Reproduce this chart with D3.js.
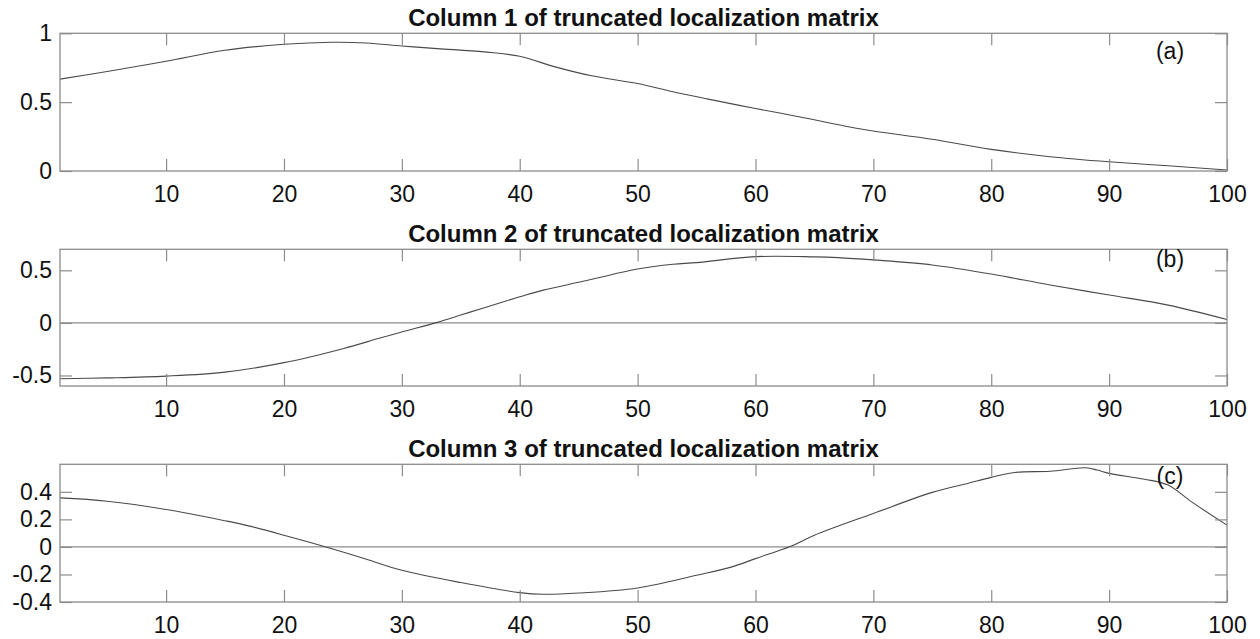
<!DOCTYPE html>
<html>
<head>
<meta charset="utf-8">
<script src="https://cdn.jsdelivr.net/npm/d3@7"></script>
<style>
  html, body { margin: 0; padding: 0; background: #fff; }
  svg { display: block; }
  text { font-family: "Liberation Sans", Arial, Helvetica, sans-serif; fill: #111; }
</style>
</head>
<body>
<script>
// Sample positions and values of the first three columns of the truncated localization matrix
const col1X = [1, 5, 10, 15, 20, 24, 27, 30, 33, 37, 40, 43, 46, 50, 53, 56, 60, 64, 68, 70, 75, 80, 85, 90, 95, 100];
const col1Y = [0.667, 0.722, 0.797, 0.877, 0.920, 0.935, 0.930, 0.908, 0.889, 0.865, 0.833, 0.756, 0.693, 0.635, 0.575, 0.522, 0.454, 0.389, 0.320, 0.290, 0.230, 0.157, 0.104, 0.067, 0.038, 0.007];

const col2X = [1, 5, 10, 15, 20, 25, 28, 30, 33, 35, 37, 40, 42, 45, 50, 53, 55, 60, 65, 67, 70, 75, 80, 85, 90, 95, 100];
const col2Y = [-0.531, -0.523, -0.506, -0.468, -0.378, -0.245, -0.149, -0.086, 0.005, 0.075, 0.145, 0.248, 0.312, 0.386, 0.513, 0.558, 0.573, 0.630, 0.628, 0.621, 0.599, 0.551, 0.465, 0.360, 0.265, 0.169, 0.032];

const col3X = [1, 5, 10, 15, 17, 20, 24, 27, 30, 35, 40, 42, 45, 50, 55, 58, 60, 63, 65, 70, 75, 78, 80, 82, 85, 88, 89, 90, 93, 95, 97, 100];
const col3Y = [0.356, 0.332, 0.272, 0.190, 0.153, 0.085, -0.012, -0.090, -0.170, -0.259, -0.332, -0.344, -0.335, -0.298, -0.206, -0.145, -0.085, 0.005, 0.085, 0.243, 0.396, 0.461, 0.505, 0.541, 0.550, 0.575, 0.558, 0.534, 0.492, 0.449, 0.327, 0.158];

const xTicks = [10, 20, 30, 40, 50, 60, 70, 80, 90, 100];
const yTicks1 = [0, 0.5, 1];
const yTicks2 = [-0.5, 0, 0.5];
const yTicks3 = [-0.4, -0.2, 0, 0.2, 0.4];

const titles = [
  "Column 1 of truncated localization matrix",
  "Column 2 of truncated localization matrix",
  "Column 3 of truncated localization matrix"
];
const tags = ["(a)", "(b)", "(c)"];

const W = 1260, H = 639;
const AXIS = "#8c8c8c", LINE = "#4a4a4a";
const left = 60, right = 1227, tickLen = 12;

const panels = [
  { xs: col1X, ys: col1Y, domain: [0, 1],      top: 33.3,  bottom: 171, yTicks: yTicks1, zero: false, tagDy: 26 },
  { xs: col2X, ys: col2Y, domain: [-0.6, 0.7], top: 249.3, bottom: 386, yTicks: yTicks2, zero: true,  tagDy: 18 },
  { xs: col3X, ys: col3Y, domain: [-0.4, 0.6], top: 464.3, bottom: 602, yTicks: yTicks3, zero: true,  tagDy: 20 }
];

const svg = d3.select("body").append("svg").attr("width", W).attr("height", H);
const x = d3.scaleLinear().domain([1, 100]).range([left, right]);

panels.forEach((p, i) => {
  const y = d3.scaleLinear().domain(p.domain).range([p.bottom, p.top]);
  const g = svg.append("g");

  // Zero reference line
  if (p.zero) {
    g.append("line")
      .attr("x1", left).attr("x2", right)
      .attr("y1", y(0)).attr("y2", y(0))
      .attr("stroke", AXIS).attr("stroke-width", 1.2);
  }

  // Data curve
  const pts = p.xs.map((xv, k) => [xv, p.ys[k]]);
  g.append("path")
    .datum(pts)
    .attr("fill", "none")
    .attr("stroke", LINE)
    .attr("stroke-width", 1.1)
    .attr("d", d3.line().x(d => x(d[0])).y(d => y(d[1])).curve(d3.curveCatmullRom.alpha(0.5)));

  // Axes with inward ticks on all four sides; labels on bottom and left
  const fmt = d => String(d);
  const xb = d3.axisBottom(x).tickValues(xTicks).tickSize(-tickLen).tickPadding(15).tickFormat(fmt);
  const xt = d3.axisTop(x).tickValues(xTicks).tickSize(-tickLen).tickFormat("");
  const yl = d3.axisLeft(y).tickValues(p.yTicks).tickSize(-tickLen).tickPadding(8).tickFormat(fmt);
  const yr = d3.axisRight(y).tickValues(p.yTicks).tickSize(-tickLen).tickFormat("");

  const styleAxis = sel => {
    sel.select(".domain").remove();
    sel.selectAll(".tick line").attr("stroke", AXIS).attr("stroke-width", 1.2);
    sel.selectAll("text").attr("font-size", 23).attr("fill", "#111")
      .style("font-family", '"Liberation Sans", Arial, sans-serif');
  };

  g.append("g").attr("transform", `translate(0,${p.bottom})`).call(xb).call(styleAxis);
  g.append("g").attr("transform", `translate(0,${p.top})`).call(xt).call(styleAxis);
  g.append("g").attr("transform", `translate(${left},0)`).call(yl).call(styleAxis);
  g.append("g").attr("transform", `translate(${right},0)`).call(yr).call(styleAxis);

  // Box
  g.append("rect")
    .attr("x", left).attr("y", p.top)
    .attr("width", right - left).attr("height", p.bottom - p.top)
    .attr("fill", "none").attr("stroke", AXIS).attr("stroke-width", 1.3);

  // Title
  g.append("text")
    .attr("x", (left + right) / 2).attr("y", p.top - 7)
    .attr("text-anchor", "middle")
    .attr("font-size", 24).attr("font-weight", "bold")
    .text(titles[i]);

  // Panel tag
  g.append("text")
    .attr("x", 1170).attr("y", p.top + p.tagDy)
    .attr("text-anchor", "middle")
    .attr("font-size", 23)
    .text(tags[i]);
});
</script>
</body>
</html>
